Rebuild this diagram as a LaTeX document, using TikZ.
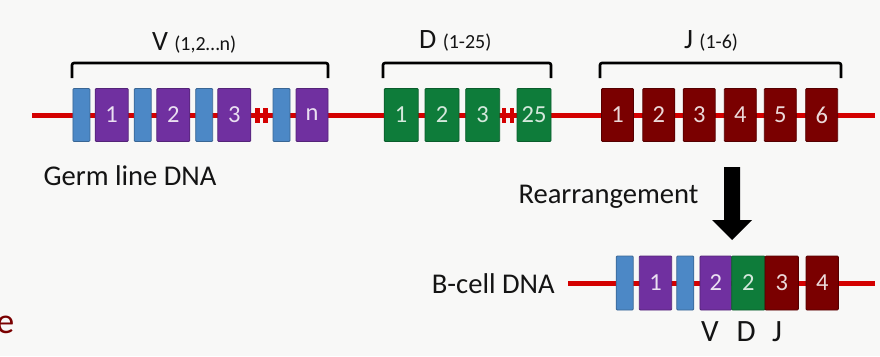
\documentclass[tikz,border=0pt]{standalone}
\usepackage{fontspec}
\setmainfont{Carlito}
\definecolor{bgc}{RGB}{248,248,247}
\definecolor{segblue}{RGB}{76,136,198}
\definecolor{segpurple}{RGB}{112,48,160}
\definecolor{seggreen}{RGB}{14,124,58}
\definecolor{segdark}{RGB}{122,0,0}
\definecolor{dnared}{RGB}{212,0,0}
\definecolor{labtxt}{RGB}{20,20,20}
\tikzset{
  seg/.style={rectangle, rounded corners=1pt, line width=0.8pt, inner sep=0pt,
    minimum height=53pt, font=\fontsize{24.5}{26}\selectfont},
  vseg/.style={seg, fill=segblue, draw=segblue!75!black, minimum width=17pt},
  pseg/.style={seg, fill=segpurple, draw=segpurple!75!black, minimum width=33pt, text=white!85!segpurple},
  gseg/.style={seg, fill=seggreen, draw=seggreen!75!black, minimum width=34pt, text=white!82!seggreen},
  jseg/.style={seg, fill=segdark, draw=segdark!70!black, minimum width=32pt, text=white!85!segdark},
  dnaline/.style={draw=dnared, line width=5pt},
  brk/.style={fill=dnared},
  bracketline/.style={draw=black, line width=2.6pt, rounded corners=2pt},
  biglab/.style={anchor=base west, inner sep=0pt, text=labtxt, font=\fontsize{28}{30}\selectfont},
  txtlab/.style={anchor=base west, inner sep=0pt, text=labtxt, font=\fontsize{28.6}{30}\selectfont},
  vdjlab/.style={anchor=base west, inner sep=0pt, text=labtxt, font=\fontsize{31}{33}\selectfont},
}
\begin{document}
\begin{tikzpicture}[x=1pt,y=-1pt]
\clip (0,0) rectangle (880,356);
\fill[bgc] (0,0) rectangle (880,356);
\useasboundingbox (0,0) rectangle (880,356);

% germ line DNA
\coordinate (gl) at (32,115.5);
\coordinate (gr) at (875,115.5);
\draw[dnaline] (gl) -- (gr);
% break marks
\fill[brk] (255,108) rectangle (259.5,123);
\fill[brk] (263,108) rectangle (267.5,123);
\fill[brk] (501.5,108) rectangle (506,123);
\fill[brk] (509.5,108) rectangle (514,123);

% V segments
\node[vseg] (vl1) at (81.4,115) {};
\node[pseg] (v1) at (111.7,115) {1};
\node[vseg] (vl2) at (142.7,115) {};
\node[pseg] (v2) at (173.3,115) {2};
\node[vseg] (vl3) at (204.2,115) {};
\node[pseg] (v3) at (234.3,115) {3};
\node[vseg] (vl4) at (281.5,115) {};
\node[pseg, minimum width=32pt] (vn) at (312,115) {n};

% D segments
\node[gseg] (d1) at (401.2,115) {1};
\node[gseg] (d2) at (442,115) {2};
\node[gseg] (d3) at (482.7,115) {3};
\node[gseg] (d25) at (534,115) {25};

% J segments
\node[jseg] (j1) at (617.5,115) {1};
\node[jseg] (j2) at (658.8,115) {2};
\node[jseg] (j3) at (699.2,115) {3};
\node[jseg] (j4) at (740.3,115) {4};
\node[jseg] (j5) at (780.3,115) {5};
\node[jseg] (j6) at (821.7,115) {6};

% brackets
\draw[bracketline] (72,78) -- (72,63) -- (328,63) -- (328,78);
\draw[bracketline] (383,78) -- (383,63) -- (551,63) -- (551,78);
\draw[bracketline] (600,78) -- (600,63) -- (841,63) -- (841,78);

% headings
\node[biglab] (vh) at (152,50) {V {\fontsize{20}{22}\selectfont (1,2…n)}};
\node[biglab] (dh) at (419,48.5) {D {\fontsize{20}{22}\selectfont (1-25)}};
\node[biglab] (jh) at (684,48.5) {J {\fontsize{20}{22}\selectfont (1-6)}};

\node[txtlab] (germ) at (43.3,185) {Germ line DNA};
\node[txtlab] (rear) at (518.3,203) {Rearrangement};
\node[txtlab] (bcell) at (431.7,293) {B-cell DNA};

% arrow
\fill[black] (724,167) -- (740,167) -- (740,220) -- (752,220) -- (732,240)
  -- (712,220) -- (724,220) -- cycle;

% B-cell DNA
\coordinate (bl) at (568.3,283.3);
\coordinate (br) at (875,283.3);
\draw[dnaline] (bl) -- (br);
\node[vseg, minimum height=54pt] (bvl1) at (624.7,283) {};
\node[pseg, minimum height=54pt, minimum width=32.4pt] (bv1) at (655.5,283) {1};
\node[vseg, minimum height=54pt] (bvl2) at (685.3,283) {};
\node[pseg, minimum height=54pt, minimum width=31.7pt] (bv2) at (715.8,283) {2};
\node[gseg, minimum height=54pt, minimum width=33.3pt] (bd2) at (748.3,283) {2};
\node[jseg, minimum height=54pt, minimum width=33.3pt] (bj3) at (781.7,283) {3};
\node[jseg, minimum height=54pt, minimum width=32.3pt] (bj4) at (822.2,283) {4};

\node[vdjlab] (labV) at (701,341.7) {V};
\node[vdjlab] (labD) at (736.5,341.7) {D};
\node[vdjlab] (labJ) at (772,341.7) {J};

% letter cut off at the left edge, as in the reference
\node[anchor=base east, inner sep=0pt, text=segdark, font=\fontsize{36}{38}\selectfont] (edgee) at (14.5,333) {e};
\end{tikzpicture}
\end{document}
